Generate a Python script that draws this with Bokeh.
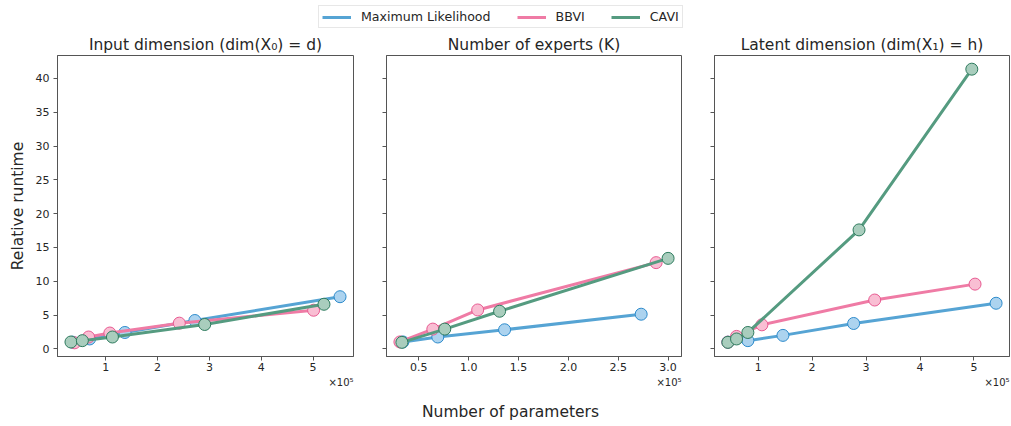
from bokeh.plotting import figure
from bokeh.layouts import row, column
from bokeh.models import (Legend, LegendItem, Label, DataRange1d, Range1d,
                          SingleIntervalTicker, CustomJSTickFormatter)
from bokeh.embed import file_html
from bokeh.resources import INLINE

# ---------------- data (number of parameters, relative runtime) ----------------
titles = ["Input dimension (dim(X\u2080) = d)",
          "Number of experts (K)",
          "Latent dimension (dim(X\u2081) = h)"]
methods = ["Maximum Likelihood", "BBVI", "CAVI"]

# panel 1: input dimension
d_ml_x = [36000, 69000, 137000, 272000, 552000]
d_ml_y = [1.0, 1.47, 2.43, 4.2, 7.72]
d_bbvi_x = [40000, 67000, 108000, 242000, 501000]
d_bbvi_y = [0.9, 1.76, 2.35, 3.81, 5.72]
d_cavi_x = [33000, 55000, 113000, 291000, 521000]
d_cavi_y = [1.02, 1.22, 1.76, 3.61, 6.6]

# panel 2: number of experts
k_ml_x = [34000, 69000, 136000, 273000]
k_ml_y = [1.03, 1.76, 2.83, 5.13]
k_bbvi_x = [31000, 64000, 109000, 288000]
k_bbvi_y = [1.03, 2.93, 5.76, 12.76]
k_cavi_x = [33000, 76000, 131000, 300000]
k_cavi_y = [0.97, 2.93, 5.57, 13.39]

# panel 3: latent dimension
h_ml_x = [44000, 81000, 146000, 277000, 541000]
h_ml_y = [1.0, 1.22, 2.0, 3.76, 6.75]
h_bbvi_x = [44000, 60000, 107000, 316000, 502000]
h_bbvi_y = [1.0, 1.85, 3.56, 7.23, 9.58]
h_cavi_x = [44000, 60000, 81000, 287000, 496000]
h_cavi_y = [0.97, 1.47, 2.43, 17.6, 41.37]

x_tick_step = [100000, 50000, 100000]
x_tick_decimals = [0, 1, 0]
x_scale_label = "\u00d710\u2075"
x_label = "Number of parameters"
y_label = "Relative runtime"

# ---------------- styles ----------------
FONT = "DejaVu Sans"
line_colors = ["#56a4d4", "#ef7ba5", "#559b80"]
fill_colors = ["#acd3ef", "#f9bed3", "#a9cdbd"]
edge_colors = ["#2d8bcc", "#e85a91", "#2e7b5e"]
AX = "#555555"
TXT = "#262626"

panels = [
    [(d_ml_x, d_ml_y), (d_bbvi_x, d_bbvi_y), (d_cavi_x, d_cavi_y)],
    [(k_ml_x, k_ml_y), (k_bbvi_x, k_bbvi_y), (k_cavi_x, k_cavi_y)],
    [(h_ml_x, h_ml_y), (h_bbvi_x, h_bbvi_y), (h_cavi_x, h_cavi_y)],
]

frame_w = [296, 295, 295]
borders = [(57, 16), (17, 16), (17, 1)]
TOP, FRAME_H, BOTTOM = 22, 302, 19
shared_y = DataRange1d()

figs = []
frame_right_edges = []
x0 = 0
for i, (title, series) in enumerate(zip(titles, panels)):
    bl, br = borders[i]
    frame_right_edges.append(x0 + bl + frame_w[i])
    x0 += bl + frame_w[i] + br
    p = figure(width=bl + frame_w[i] + br, height=TOP + FRAME_H + BOTTOM,
               output_backend="svg", toolbar_location=None,
               min_border_left=bl, min_border_right=br,
               min_border_top=TOP, min_border_bottom=BOTTOM,
               x_range=DataRange1d(), y_range=shared_y)
    p.title.text = title
    p.title.align = "center"
    p.title.text_font = FONT
    p.title.text_font_size = "15.5px"
    p.title.text_font_style = "normal"
    p.title.text_color = TXT
    p.title.standoff = 3
    p.grid.visible = False
    p.outline_line_color = AX
    p.outline_line_alpha = 1
    for ax in (p.xaxis[0], p.yaxis[0]):
        ax.axis_line_color = AX
        ax.major_tick_line_color = AX
        ax.minor_tick_line_color = None
        ax.major_tick_in = 0
        ax.major_tick_out = 4
        ax.major_label_text_font = FONT
        ax.major_label_text_font_size = "11px"
        ax.major_label_text_color = TXT
    p.xaxis.major_label_standoff = 2
    p.yaxis.major_label_standoff = 4
    p.xaxis.ticker = SingleIntervalTicker(interval=x_tick_step[i], num_minor_ticks=0)
    p.xaxis.formatter = CustomJSTickFormatter(
        code="return (tick/1e5).toFixed(%d);" % x_tick_decimals[i])
    p.yaxis.ticker = SingleIntervalTicker(interval=5, num_minor_ticks=0)
    if i == 0:
        p.yaxis.axis_label = y_label
        p.yaxis.axis_label_text_font = FONT
        p.yaxis.axis_label_text_font_size = "15.5px"
        p.yaxis.axis_label_text_font_style = "normal"
        p.yaxis.axis_label_text_color = TXT
        p.yaxis.axis_label_standoff = 6
    else:
        p.yaxis.formatter = CustomJSTickFormatter(code="return '';")
        p.yaxis.major_label_standoff = 0
    for j, (xs, ys) in enumerate(series):
        p.line(xs, ys, line_width=3, line_color=line_colors[j])
        p.scatter(xs, ys, size=12, fill_color=fill_colors[j],
                  line_color=edge_colors[j], line_width=1)
    figs.append(p)

TOTAL_W = sum(f.width for f in figs)

# ---------------- legend strip ----------------
LEG_H = 32
p_leg = figure(width=TOTAL_W, height=LEG_H, output_backend="svg",
               toolbar_location=None, min_border=0,
               x_range=Range1d(0, 1), y_range=Range1d(0, 1))
p_leg.axis.visible = False
p_leg.grid.visible = False
p_leg.outline_line_color = None
items = []
for j, name in enumerate(methods):
    # proxy renderers (outside the visible range) used only for the legend keys
    r = p_leg.line(x=[5, 6], y=[5, 6], line_width=3, line_color=line_colors[j])
    items.append(LegendItem(label=name, renderers=[r]))
leg = Legend(items=items, orientation="horizontal", location=(318, 4),
             glyph_width=29, glyph_height=14, label_standoff=10, spacing=26,
             padding=3, margin=0, label_text_font=FONT,
             label_text_font_size="12.6px", label_text_color=TXT,
             border_line_color="#d0d0d0", border_line_width=1,
             background_fill_color="white", background_fill_alpha=1)
p_leg.add_layout(leg)

# ---------------- scale labels + shared x label ----------------
BOT_H = 50
p_bot = figure(width=TOTAL_W, height=BOT_H, output_backend="svg",
               toolbar_location=None, min_border=0,
               x_range=Range1d(0, 1), y_range=Range1d(0, 1))
p_bot.axis.visible = False
p_bot.grid.visible = False
p_bot.outline_line_color = None
for xr in frame_right_edges:
    p_bot.add_layout(Label(x=xr, y=BOT_H - 7, x_units="screen", y_units="screen",
                           text=x_scale_label, text_align="right",
                           text_baseline="middle", text_font=FONT,
                           text_font_size="10px", text_color=TXT))
p_bot.add_layout(Label(x=510, y=14, x_units="screen", y_units="screen",
                       text=x_label, text_align="center",
                       text_baseline="middle", text_font=FONT,
                       text_font_size="15.5px", text_color=TXT))

layout = column(p_leg, row(*figs), p_bot)
open("out.html", "w").write(file_html(layout, INLINE))
